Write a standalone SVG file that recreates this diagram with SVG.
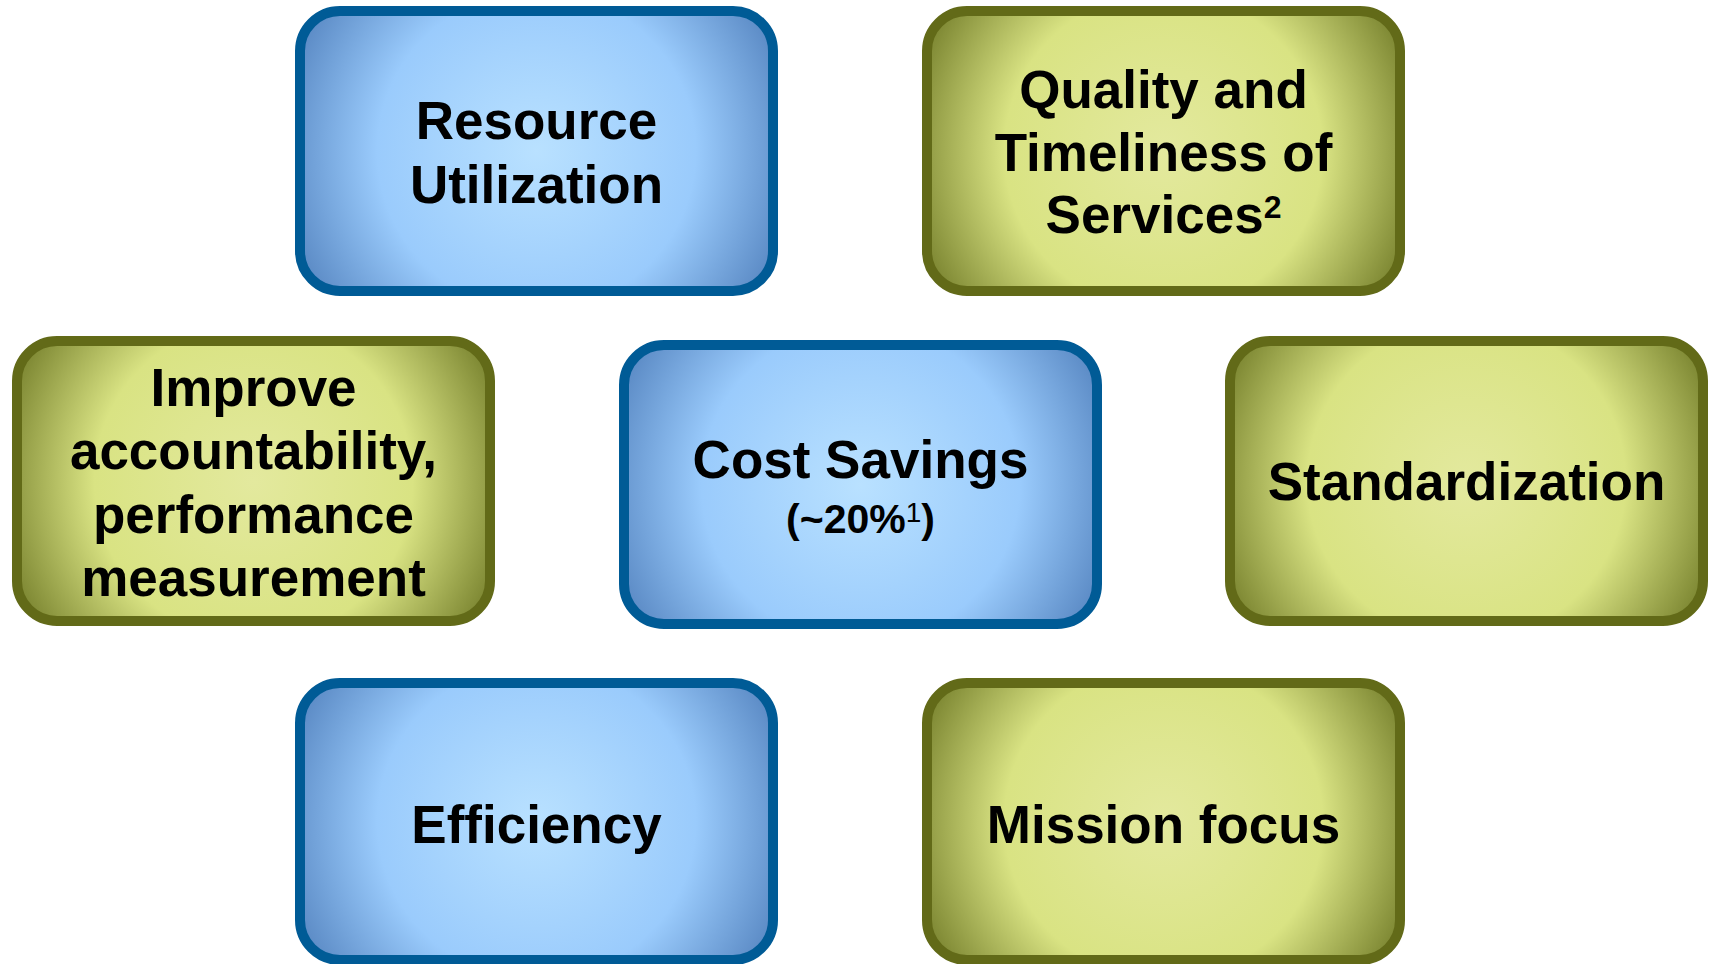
<svg xmlns="http://www.w3.org/2000/svg" width="1712" height="964" viewBox="0 0 1712 964">
  <defs>
    <!-- circular shading: the bbox is ~473x280, so stretch y to keep the falloff round -->
    <radialGradient id="blueFill" cx="0.5" cy="0.5" r="0.58" gradientTransform="translate(0.5 0.5) scale(1 1.69) translate(-0.5 -0.5)">
      <stop offset="0" stop-color="#b9e1ff"/>
      <stop offset="0.58" stop-color="#9acbfc"/>
      <stop offset="1" stop-color="#5281bd"/>
    </radialGradient>
    <radialGradient id="greenFill" cx="0.5" cy="0.5" r="0.58" gradientTransform="translate(0.5 0.5) scale(1 1.69) translate(-0.5 -0.5)">
      <stop offset="0" stop-color="#e3e99e"/>
      <stop offset="0.58" stop-color="#d9e383"/>
      <stop offset="1" stop-color="#6f7926"/>
    </radialGradient>
    <style>
      .box { stroke-width: 10; }
      .blue { fill: url(#blueFill); stroke: #005b96; }
      .green { fill: url(#greenFill); stroke: #626a18; }
      .label { font-family: "Liberation Sans", Arial, sans-serif; font-weight: bold; font-size: 53px; fill: #000; text-anchor: middle; }
      .sub { font-size: 41px; }
      .sup { font-weight: normal; font-size: 28px; }
      .sup2 { font-size: 32px; }
    </style>
  </defs>

  <rect width="1712" height="964" fill="#ffffff"/>

  <g id="resource-utilization">
    <rect class="box blue" x="300" y="11" width="473" height="280" rx="40"/>
    <text class="label" x="536.5" y="139">Resource</text>
    <text class="label" x="536.5" y="203">Utilization</text>
  </g>

  <g id="quality-timeliness">
    <rect class="box green" x="927" y="11" width="473" height="280" rx="40"/>
    <text class="label" x="1163.5" y="108">Quality and</text>
    <text class="label" x="1163.5" y="170.5">Timeliness of</text>
    <text class="label" x="1163.5" y="233">Services<tspan class="sup2" dy="-15">2</tspan></text>
  </g>

  <g id="improve-accountability">
    <rect class="box green" x="17" y="341" width="473" height="280" rx="40"/>
    <text class="label" x="253.5" y="406">Improve</text>
    <text class="label" x="253.5" y="469">accountability,</text>
    <text class="label" x="253.5" y="532.5">performance</text>
    <text class="label" x="253.5" y="596">measurement</text>
  </g>

  <g id="cost-savings">
    <rect class="box blue" x="624" y="345" width="473" height="279" rx="40"/>
    <text class="label" x="860.5" y="478">Cost Savings</text>
    <text class="label sub" x="860.5" y="533">(~20%<tspan class="sup" dy="-11">1</tspan><tspan dy="11">)</tspan></text>
  </g>

  <g id="standardization">
    <rect class="box green" x="1230" y="341" width="473" height="280" rx="40"/>
    <text class="label" x="1466.5" y="500">Standardization</text>
  </g>

  <g id="efficiency">
    <rect class="box blue" x="300" y="683" width="473" height="277" rx="40"/>
    <text class="label" x="536.5" y="843">Efficiency</text>
  </g>

  <g id="mission-focus">
    <rect class="box green" x="927" y="683" width="473" height="277" rx="40"/>
    <text class="label" x="1163.5" y="843">Mission focus</text>
  </g>

  <!-- the boxes stand on their own; no connectors are drawn -->
  <g id="connectors"/>
</svg>
